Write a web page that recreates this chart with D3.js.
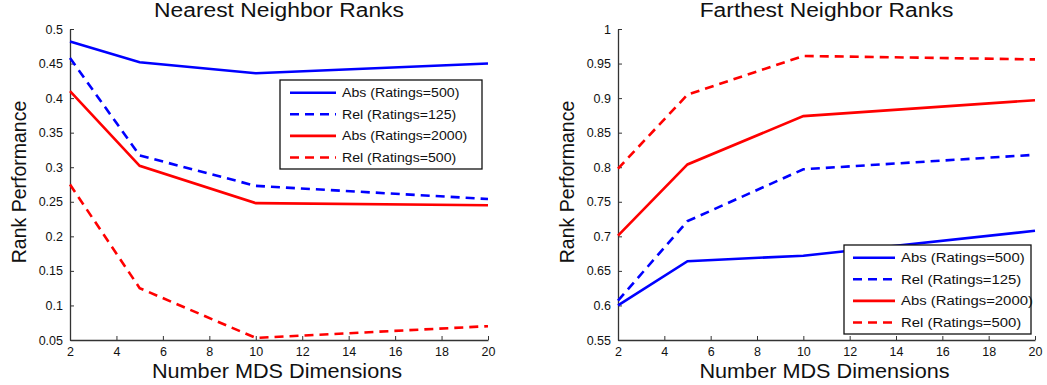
<!DOCTYPE html>
<html>
<head>
<meta charset="utf-8">
<script src="https://cdn.jsdelivr.net/npm/d3@7"></script>
<style>
	body { margin: 0; background: #fff; }
	svg { display: block; font-family: "Liberation Sans", Arial, sans-serif; }
</style>
</head>
<body>
<svg id="chart" width="1047" height="385"></svg>
<script>
// shared x values and legend labels
const dims = [2, 5, 10, 20];
const seriesNames = ['Abs (Ratings=500)', 'Rel (Ratings=125)', 'Abs (Ratings=2000)', 'Rel (Ratings=500)'];
const xTicks = [2, 4, 6, 8, 10, 12, 14, 16, 18, 20];

// nearest neighbor panel
const nearAbs500 = [0.482, 0.452, 0.436, 0.450];
const nearRel125 = [0.458, 0.317, 0.273, 0.254];
const nearAbs2000 = [0.410, 0.302, 0.248, 0.245];
const nearRel500 = [0.275, 0.125, 0.053, 0.070];
const nearTicks = [0.05, 0.1, 0.15, 0.2, 0.25, 0.3, 0.35, 0.4, 0.45, 0.5];

// farthest neighbor panel
const farAbs500 = [0.600, 0.664, 0.672, 0.708];
const farRel125 = [0.607, 0.722, 0.797, 0.818];
const farAbs2000 = [0.701, 0.804, 0.874, 0.897];
const farRel500 = [0.798, 0.905, 0.961, 0.956];
const farTicks = [0.55, 0.6, 0.65, 0.7, 0.75, 0.8, 0.85, 0.9, 0.95, 1];

const styles = [
	{color: '#0000ff', dash: null},
	{color: '#0000ff', dash: '9,6'},
	{color: '#ff0000', dash: null},
	{color: '#ff0000', dash: '9,6'}
];

const svg = d3.select('#chart');

// matlab export is a bit wider than our fonts, stretch text horizontally
const stretch = (sel, k) => {
	sel.each(function() {
		let w = this.getComputedTextLength();
		d3.select(this).attr('textLength', w * k).attr('lengthAdjust', 'spacingAndGlyphs');
	});
}

function drawPanel(p) {
	const g = svg.append('g');
	const x = d3.scaleLinear().domain([2, 20]).range([p.left, p.right]);
	const y = d3.scaleLinear().domain(p.domain).range([p.bottom, p.top]);

	// axes, ticks point inward like matlab
	const xAxis = g.append('g')
		.attr('transform', `translate(0,${p.bottom})`)
		.call(d3.axisBottom(x).tickValues(xTicks).tickSizeInner(-4).tickSizeOuter(0).tickPadding(7));
	const yAxis = g.append('g')
		.attr('transform', `translate(${p.left},0)`)
		.call(d3.axisLeft(y).tickValues(p.ticks).tickSizeInner(-4).tickSizeOuter(0).tickPadding(7)
			.tickFormat(d => String(+d.toFixed(2))));
	for (let ax of [xAxis, yAxis]) {
		ax.select('.domain').attr('stroke', '#333').attr('stroke-width', 1.3);
		ax.selectAll('line').attr('stroke', '#333');
		ax.selectAll('text').attr('font-size', 12.5).attr('fill', '#111').attr('font-family', null);
	}

	const line = d3.line().x((d, i) => x(dims[i])).y(d => y(d));
	p.series.forEach((vals, i) => {
		g.append('path')
			.datum(vals)
			.attr('d', line)
			.attr('fill', 'none')
			.attr('stroke', styles[i].color)
			.attr('stroke-width', 2.6)
			.attr('stroke-dasharray', styles[i].dash);
	});

	// titles and labels
	const cx = (p.left + p.right) / 2;
	g.append('text').attr('x', cx).attr('y', 17).attr('text-anchor', 'middle')
		.attr('font-size', 19.5).attr('fill', '#111').text(p.title)
		.call(stretch, 1.17);
	g.append('text').attr('x', cx - 2).attr('y', 377.5).attr('text-anchor', 'middle')
		.attr('font-size', 19.5).attr('fill', '#111').text('Number MDS Dimensions')
		.call(stretch, 1.11);
	g.append('text')
		.attr('transform', `translate(${p.left - 44},182) rotate(-90)`)
		.attr('text-anchor', 'middle').attr('font-size', 19.5).attr('fill', '#111')
		.text('Rank Performance');

	// legend
	const lg = g.append('g').attr('transform', `translate(${p.legend[0]},${p.legend[1]})`);
	lg.append('rect').attr('width', p.legend[2]).attr('height', 89)
		.attr('fill', '#fff').attr('stroke', '#111').attr('stroke-width', 1.3);
	seriesNames.forEach((name, i) => {
		const ry = 12.7 + i * 21.6;
		lg.append('line').attr('x1', p.legend[3]).attr('x2', p.legend[4]).attr('y1', ry).attr('y2', ry)
			.attr('stroke', styles[i].color).attr('stroke-width', 2.6)
			.attr('stroke-dasharray', styles[i].dash);
		lg.append('text').attr('x', p.legend[5]).attr('y', ry + 4.5)
			.attr('font-size', 12.5).attr('fill', '#111').text(name)
			.call(stretch, p.legend[6]);
	});
}

drawPanel({
	title: 'Nearest Neighbor Ranks', left: 70, right: 488, top: 29, bottom: 340,
	domain: [0.05, 0.5], ticks: nearTicks,
	series: [nearAbs500, nearRel125, nearAbs2000, nearRel500],
	legend: [280, 80, 202, 10, 56, 62, 1.13]
});
drawPanel({
	title: 'Farthest Neighbor Ranks', left: 618, right: 1035, top: 29, bottom: 340,
	domain: [0.55, 1], ticks: farTicks,
	series: [farAbs500, farRel125, farAbs2000, farRel500],
	legend: [844, 245, 187, 9, 51, 57, 1.19]
});
</script>
</body>
</html>
